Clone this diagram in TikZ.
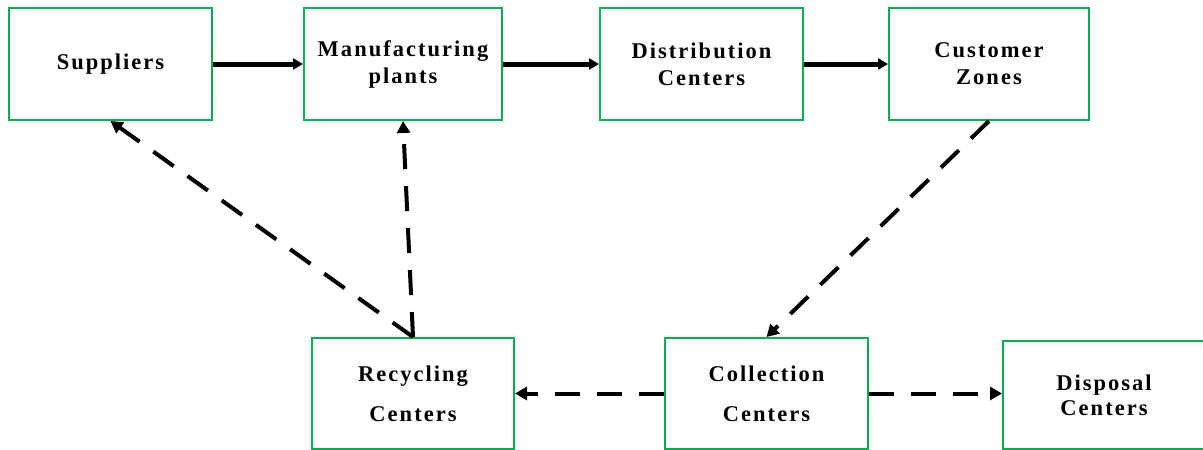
\documentclass[tikz,border=0pt]{standalone}
\usepackage{fontspec}
\setmainfont{Liberation Serif}[LetterSpace=9]
\usetikzlibrary{arrows.meta}
\definecolor{boxgreen}{RGB}{0,176,80}

\begin{document}
\begin{tikzpicture}[x=1pt, y=-1pt,
  site/.style={draw=boxgreen, line width=2pt, align=center, inner sep=0pt,
    font=\fontsize{22.5}{27}\selectfont\bfseries},
  flow/.style={line width=5pt, -{Triangle[length=10pt, width=11pt]}},
  back/.style={line width=4pt, dash pattern=on 25pt off 17pt, -{Triangle[length=12pt, width=13pt]}}]
\useasboundingbox (0,0) rectangle (1203,450);
\clip (0,0) rectangle (1203,450);
\node [site, minimum width=203pt, minimum height=112pt] (sup) at (110.5,64) {Suppliers};
\node [site, minimum width=198pt, minimum height=112pt] (manu) at (403,64) {Manufacturing\\plants};
\node [site, minimum width=203pt, minimum height=112pt] (dist) at (701.5,64) {Distribution\\Centers};
\node [site, minimum width=200pt, minimum height=112pt] (cust) at (989,64) {Customer\\Zones};
\node [site, minimum width=202pt, minimum height=111pt] (recy) at (413,393.5) {Recycling\\[13pt]Centers};
\node [site, minimum width=203pt, minimum height=111pt] (coll) at (766.5,393.5) {Collection\\[13pt]Centers};
\node [site, minimum width=202pt, minimum height=108pt, font=\fontsize{22.5}{25}\selectfont\bfseries] (disp) at (1104,395) {Disposal\\Centers};
\draw [flow] (sup) -- (manu);
\draw [flow] (manu) -- (dist);
\draw [flow] (dist) -- (cust);
\draw [back] (cust.south) -- (coll.north);
\draw [back] (recy.north) -- (sup.south);
\draw [back] (recy.north) -- (manu.south);
\draw [back] (coll.west) -- (recy.east);
\draw [back] (coll.east) -- (coll.east -| disp.west);
\end{tikzpicture}
\end{document}
